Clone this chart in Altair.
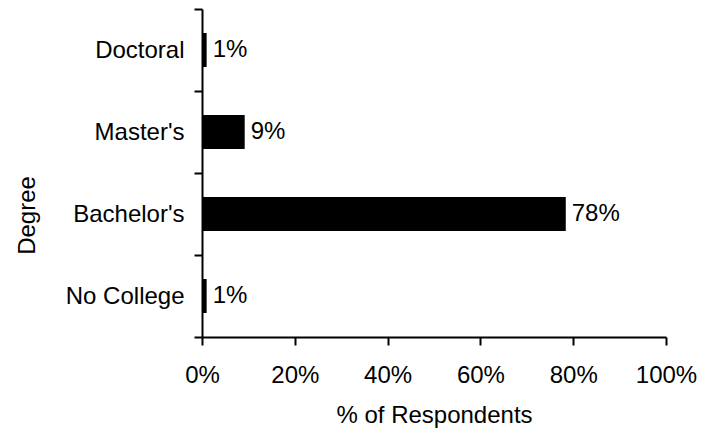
import altair as alt
import pandas as pd

degrees = ["Doctoral", "Master's", "Bachelor's", "No College"]
values = [1.0, 9.2, 78.4, 1.0]
labels = ["1%", "9%", "78%", "1%"]
x_ticks = [0, 20, 40, 60, 80, 100]

df = pd.DataFrame({"Degree": degrees, "Value": values, "Label": labels})

FONT = "Liberation Sans"
FS = 24

base = alt.Chart(df).encode(
    y=alt.Y(
        "Degree:N",
        sort=degrees,
        scale=alt.Scale(paddingInner=0, paddingOuter=0),
        axis=alt.Axis(
            title="Degree",
            tickBand="extent",
            domainColor="black",
            domainWidth=2,
            tickColor="black",
            tickWidth=2,
            tickSize=8,
            labelFontSize=FS,
            labelFont=FONT,
            labelColor="black",
            labelPadding=10,
            titleFontSize=FS,
            titleFont=FONT,
            titleFontWeight="normal",
            titleColor="black",
            titleAngle=-90,
            titleY=206,
            titleX=-175,
            titleAlign="center",
            titleBaseline="middle",
            grid=False,
        ),
    )
)

bars = base.mark_bar(color="black", size=34).encode(
    x=alt.X(
        "Value:Q",
        scale=alt.Scale(domain=[0, 100]),
        axis=alt.Axis(
            title="% of Respondents",
            values=x_ticks,
            labelExpr="datum.value + '%'",
            labelFlush=False,
            labelOverlap=False,
            labelBound=False,
            domainColor="black",
            domainWidth=2,
            tickColor="black",
            tickWidth=2,
            tickSize=8,
            labelFontSize=FS,
            labelFont=FONT,
            labelColor="black",
            labelPadding=18,
            titleFontSize=FS,
            titleFont=FONT,
            titleFontWeight="normal",
            titleColor="black",
            titlePadding=16,
            grid=False,
        ),
    )
)

text = base.mark_text(
    align="left", baseline="middle", dx=6, fontSize=FS, font=FONT, color="black"
).encode(x="Value:Q", text="Label:N")

chart = (
    (bars + text)
    .properties(
        width=464,
        height=328,
        autosize=alt.AutoSizeParams(type="none"),
        padding={"left": 194, "top": 1, "right": 32, "bottom": 92},
    )
    .configure_view(stroke=None)
)

chart.save("out.html", embed_options={"renderer": "svg", "actions": False})
